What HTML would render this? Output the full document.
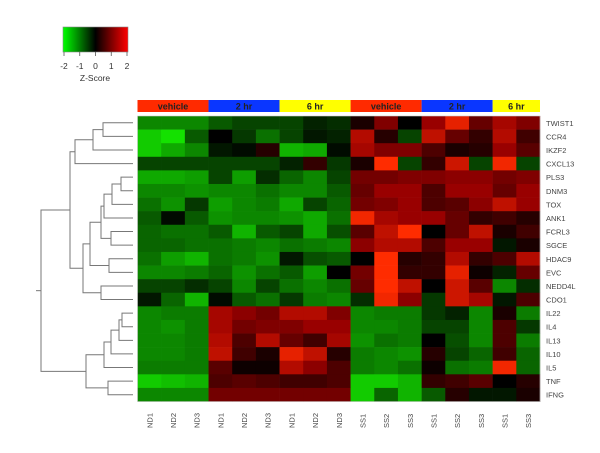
<!DOCTYPE html>
<html><head><meta charset="utf-8"><style>
body{margin:0;background:#fff;width:600px;height:453px;overflow:hidden}
svg{display:block;font-family:"Liberation Sans",sans-serif}
</style></head><body>
<svg id="chart" width="600" height="453" viewBox="0 0 600 453"></svg>
<script>
const genes=["TWIST1","CCR4","IKZF2","CXCL13","PLS3","DNM3","TOX","ANK1","FCRL3","SGCE","HDAC9","EVC","NEDD4L","CDO1","IL22","IL4","IL13","IL10","IL5","TNF","IFNG"];
const samples=["ND1","ND2","ND3","ND1","ND2","ND3","ND1","ND2","ND3","SS1","SS2","SS3","SS1","SS2","SS3","SS1","SS3"];
const groups=["vehicle","2 hr","6 hr","vehicle","2 hr","6 hr"];
const groupSizes=[3,3,3,3,3,2];
const groupColors=["#ff2a00","#0a36ff","#ffff00","#ff2a00","#0a36ff","#ffff00"];
const zTicks=[-2,-1,0,1,2];
const values=[
[-1.2,-1.2,-1.2,-0.8,-0.6,-0.6,-0.6,-0.3,-0.4,0.2,1,0,1.2,1.8,0.8,1.3,1],
[-1.8,-2,-0.8,0,-0.5,-1,-0.6,-0.2,-0.3,1.4,0.3,-0.6,1.5,0.8,0.4,1.4,0.5],
[-1.8,-1.5,-1.2,-0.2,-0.1,0.3,-1.6,-1.5,-0.1,1.3,1,1,0.6,0.2,0.3,1.2,0.7],
[-0.6,-0.6,-0.6,-0.6,-0.6,-0.6,-0.3,0.4,-0.5,0.2,2,-0.6,0.4,1.6,-0.6,1.9,-0.6],
[-1.5,-1.5,-1.4,-0.6,-1.4,-0.4,-0.9,-1.2,-0.6,0.9,0.9,1,1,1.1,1.1,0.9,1],
[-1.2,-1.2,-1.3,-1.2,-1.2,-1,-1.2,-1.2,-0.8,0.8,1.2,1.2,0.6,1.2,1.2,0.8,1.2],
[-1,-1.3,-0.5,-1.4,-1.2,-1.1,-1.5,-0.6,-0.9,0.9,1,1.2,0.6,0.7,1.1,1.5,1.2],
[-0.8,-0.1,-0.8,-1.3,-1.2,-1.2,-1.3,-1.5,-1,1.9,1.3,1.2,1.2,0.8,0.4,0.5,0.3],
[-0.9,-1,-1,-0.8,-1.6,-0.8,-0.6,-1.5,-0.7,0.7,1.5,2,0,0.8,1.5,0.2,0.5],
[-0.9,-0.9,-1,-1,-1.1,-1.2,-1,-1.1,-1.2,1.1,1.4,1.4,0.6,1.2,1.2,-0.2,0.2],
[-1,-1.4,-1.6,-1,-1.1,-1.3,-0.2,-0.7,-0.8,0,2,0.3,0.4,1.4,0.4,0.6,1.4],
[-1.2,-1.2,-1.1,-0.9,-1.3,-1,-0.8,-1.4,0,0.9,2,0.4,0.4,1.8,0.1,-0.3,0.8],
[-0.6,-0.6,-0.4,-0.6,-1.2,-0.6,-1,-1.2,-1,0.8,2,1.5,0,1.6,0.7,-1.2,-0.4],
[-0.2,-0.9,-1.6,-0.1,-0.8,-1,-0.5,-1.1,-1.2,-0.4,1.9,1.1,-0.5,1.6,1.3,-0.2,0.6],
[-1.2,-1.1,-1.1,1.3,1.1,0.9,1.4,1.4,1,-1.2,-1.1,-1.1,-0.5,-0.3,-1.2,0.2,-1.1],
[-1.2,-1.3,-1.1,1.3,0.9,1,1,1.2,1.2,-1.2,-1.2,-1.1,-0.6,-0.6,-1.2,0.6,-0.5],
[-1.2,-1.2,-1.1,1.4,0.6,1.4,0.8,0.5,1.3,-1.3,-1,-1.1,0,-0.7,-1.2,0.6,-1.1],
[-1.2,-1.2,-1.1,1.5,0.5,0.2,1.8,1.5,0.3,-1.1,-1.2,-1.3,0.3,-0.6,-0.9,0.5,-0.9],
[-1.1,-1.1,-1.1,0.7,0.1,0.1,1.4,1.1,0.6,-1.1,-1.2,-1,0.1,-1,-1.1,1.9,-0.9],
[-1.8,-1.7,-1.6,0.6,0.7,0.6,0.5,0.5,0.6,-1.8,-1.8,-1.6,0.4,0.5,0.7,0,0.3],
[-1.2,-1.2,-1.2,0.9,0.9,0.9,0.9,0.9,0.9,-1.8,-0.9,-1.6,-0.8,0.3,-0.2,-0.2,0.2]];
// dendrogram nodes: [leftChild,rightChild,nodeX]; leaves are row indices
const nA=[[[0,1,103],2,93],3,75];
const nE=[[[[4,5,121],6,112],7,104],[8,9,111],101];
const nB=[[nE,[10,11,109],90],[12,13,101],83];
const nTop=[nA,nB,70];
const nBot=[[[[[14,15,122],16,119],17,111],18,104],[19,20,108],86];
const tree=[nTop,nBot,41];

const NS="http://www.w3.org/2000/svg";
const svg=document.getElementById("chart");
function mk(t,a,p){const e=document.createElementNS(NS,t);for(const k in a)e.setAttribute(k,a[k]);(p||svg).appendChild(e);return e;}
const X0=137.5,X1=540,Y0=116,Y1=401.5;
const cw=(X1-X0)/samples.length, rh=(Y1-Y0)/genes.length;
const xCol=i=>X0+i*cw, yRow=i=>Y0+i*rh;
function color(v){v=Math.max(-2,Math.min(2,v));
 if(v<0){const g=Math.round(-v/2*225);return "rgb("+Math.round(-v/2*20)+","+g+",0)";}
 const r=Math.round(v/2*255);return "rgb("+r+","+Math.round(Math.max(0,v-1.2)*55)+",0)";}

// colour key
const key=mk("g",{});


const defs=mk("defs",{});
const lg=mk("linearGradient",{id:"kg",x1:"0",x2:"1",y1:"0",y2:"0"},defs);
mk("stop",{offset:"0","stop-color":"#00ff00"},lg);mk("stop",{offset:"0.5","stop-color":"#000"},lg);mk("stop",{offset:"1","stop-color":"#ff0000"},lg);
const KX0=63,KX1=128;
const kr=mk("rect",{x:KX0,y:27,width:KX1-KX0,height:25,fill:"url(#kg)",stroke:"#888","stroke-width":0.6},key);


zTicks.forEach(t=>{const x=KX0+1+(t+2)/4*(KX1-KX0-2);
 mk("line",{x1:x,x2:x,y1:52,y2:56,stroke:"#555","stroke-width":0.8},key);
 const tx=mk("text",{x:x,y:69,"font-size":8.5,"text-anchor":"middle",fill:"#333"},key);tx.textContent=t;
 
 });
const zt=mk("text",{x:95,y:81,"font-size":8.5,"text-anchor":"middle",fill:"#333"},key);zt.textContent="Z-Score";



// group annotation bar
let gi=0;
groups.forEach((g,k)=>{const x=xCol(gi),w=groupSizes[k]*cw;
 const r=mk("rect",{x:x,y:100,width:w,height:12,fill:groupColors[k]});
 
 
 const t=mk("text",{x:x+w/2,y:109.5,"font-size":9,"font-weight":"bold","text-anchor":"middle",fill:"#222"});t.textContent=g;
 
 
 gi+=groupSizes[k];});

// cells
values.forEach((row,i)=>row.forEach((v,j)=>{
 const c=mk("rect",{x:xCol(j),y:yRow(i),width:cw+0.3,height:rh+0.3,fill:color(v)});
 
 }));
mk("rect",{x:X0,y:Y0,width:X1-X0,height:Y1-Y0,fill:"none",stroke:"#ccc","stroke-width":0.6});

// row labels
genes.forEach((g,i)=>{const t=mk("text",{x:546,y:yRow(i)+rh/2+3,"font-size":7.5,fill:"#444"});t.textContent=g;
 
 });
// column labels
samples.forEach((s,j)=>{const x=xCol(j)+cw/2+3,y=428;
 const t=mk("text",{x:x,y:y,"font-size":7.5,fill:"#444",transform:"rotate(-90 "+x+" "+y+")"});t.textContent=s;
 
 });

// dendrogram
const dg=mk("g",{stroke:"#777","stroke-width":1,fill:"none"});


const LEAFX=133;
function draw(n){
 if(typeof n==="number")return {x:LEAFX,y:yRow(n)+rh/2};
 const a=draw(n[0]),b=draw(n[1]),x=n[2];
 mk("path",{d:"M"+a.x+","+a.y+"H"+x+"V"+b.y+"H"+b.x},dg);
 return {x:x,y:(a.y+b.y)/2};}
const root=draw(tree);
mk("line",{x1:root.x,x2:36,y1:root.y,y2:root.y},dg);
</script>
</body></html>
